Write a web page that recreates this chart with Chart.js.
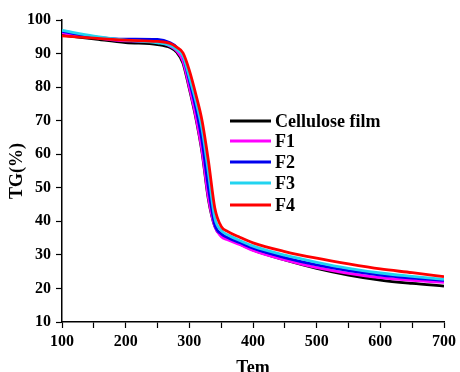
<!DOCTYPE html>
<html>
<head>
<meta charset="utf-8">
<script src="https://cdn.jsdelivr.net/npm/chart.js@4.4.1/dist/chart.umd.min.js"></script>
<style>
    html, body { margin: 0; padding: 0; background: #fff; }
    #wrap { width: 460px; height: 372px; }
</style>
</head>
<body>
<div id="wrap"><canvas id="tg" width="460" height="372"></canvas></div>
<script>
// Temperature points (same for every curve)
const temps = [100, 150, 200, 250, 270, 280, 290, 300, 310, 320, 330, 340, 350, 360, 380, 400, 450, 500, 550, 600, 650, 700];

const labels = ['Cellulose film', 'F1', 'F2', 'F3', 'F4'];
const colors = ['#000000', '#ff00ff', '#0000ee', '#22d4f0', '#ff0000'];

const cellulose = [95.5, 94.4, 93.3, 92.7, 91.8, 90.4, 87.2, 79.5, 71, 60.5, 46.5, 38.5, 35.8, 34.8, 33.2, 31.5, 28.5, 26, 24, 22.5, 21.5, 20.7];
const f1 = [96.2, 94.8, 93.8, 93.5, 92.2, 90.8, 87.8, 80, 71.5, 61, 47, 38.5, 35.5, 34.5, 33, 31.3, 28.5, 26.2, 24.5, 23.2, 22.4, 21.8];
const f2 = [96.6, 95, 94.3, 94.2, 93.2, 91.9, 89.3, 82, 74, 64, 50, 39, 36.3, 35.2, 33.6, 32, 29.2, 27, 25.3, 24, 23.1, 22.4];
const f3 = [96.9, 95.2, 94, 93.2, 92.4, 91.2, 89.2, 83, 76, 67.5, 54.5, 41, 37.3, 36, 34.2, 32.6, 29.9, 27.8, 26, 24.6, 23.6, 22.7];
const f4 = [95.3, 94.6, 94, 93.6, 93, 91.9, 90.2, 85, 78, 70, 58, 44, 38.5, 37, 35.2, 33.6, 31, 29, 27.3, 25.8, 24.7, 23.5];

const series = [cellulose, f1, f2, f3, f4];

const serif = "'Liberation Serif', 'DejaVu Serif', serif";

// Legend drawn inside the plot, like the original figure
const insideLegend = {
    id: 'insideLegend',
    afterDraw(chart) {
        const ctx = chart.ctx;
        const rows = [121, 141, 162, 183, 205];
        ctx.save();
        ctx.font = 'bold 18px ' + serif;
        ctx.textBaseline = 'middle';
        chart.data.datasets.forEach((ds, i) => {
            ctx.strokeStyle = ds.borderColor;
            ctx.lineWidth = 3;
            ctx.beginPath();
            ctx.moveTo(230, rows[i]);
            ctx.lineTo(271, rows[i]);
            ctx.stroke();
            ctx.fillStyle = '#000';
            ctx.fillText(ds.label, 275, rows[i] + 1);
        });
        ctx.restore();
    }
};

const ctx = document.getElementById('tg').getContext('2d');
new Chart(ctx, {
    type: 'line',
    data: {
        datasets: series.map((vals, i) => ({
            label: labels[i],
            data: temps.map((t, j) => ({ x: t, y: vals[j] })),
            borderColor: colors[i],
            borderWidth: 2.8,
            pointRadius: 0,
            cubicInterpolationMode: 'monotone',
            order: 4 - i
        }))
    },
    options: {
        responsive: false,
        animation: false,
        layout: { padding: { top: 20, right: 15, left: 0, bottom: 0 } },
        plugins: {
            legend: { display: false },
            tooltip: { enabled: false }
        },
        scales: {
            x: {
                type: 'linear',
                min: 100,
                max: 700,
                afterFit: s => { s.height = 50; },
                border: { display: true, color: '#000', width: 1.5 },
                grid: { drawOnChartArea: false, drawTicks: true, tickLength: 6, color: '#000', tickWidth: 1.2 },
                ticks: {
                    stepSize: 50,
                    padding: 4,
                    color: '#000',
                    maxRotation: 0,
                    font: { family: serif, size: 16, weight: 'bold' },
                    callback: v => (v % 100 === 0 ? v : '')
                },
                title: {
                    display: true,
                    text: 'Tem',
                    color: '#000',
                    font: { family: serif, size: 18, weight: 'bold' },
                    padding: { top: 0, bottom: -7 }
                }
            },
            y: {
                min: 10,
                max: 100,
                afterFit: s => { s.width = 62; },
                border: { display: true, color: '#000', width: 1.5 },
                grid: { drawOnChartArea: false, drawTicks: true, tickLength: 6, color: '#000', tickWidth: 1.2 },
                ticks: {
                    stepSize: 5,
                    padding: 5,
                    color: '#000',
                    font: { family: serif, size: 16, weight: 'bold' },
                    callback: v => (v % 10 === 0 ? v : '')
                },
                title: {
                    display: true,
                    text: 'TG(%)',
                    color: '#000',
                    font: { family: serif, size: 18, weight: 'bold' },
                    padding: { top: 7, bottom: 0 }
                }
            }
        }
    },
    plugins: [insideLegend]
});
</script>
</body>
</html>
